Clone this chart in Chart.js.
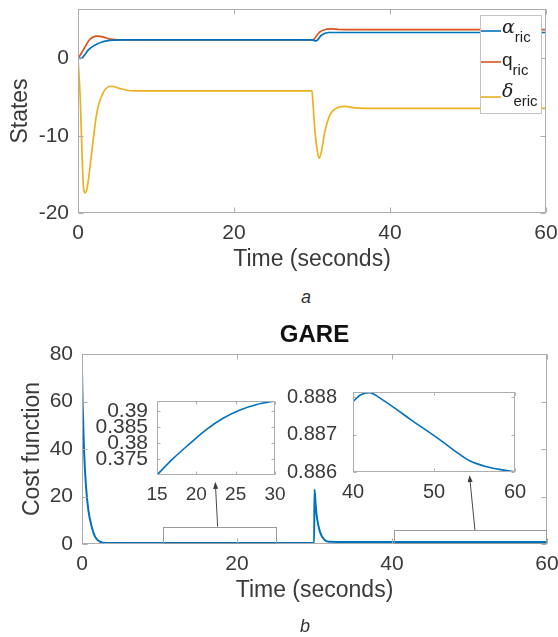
<!DOCTYPE html>
<html>
<head>
<meta charset="utf-8">
<script src="https://cdn.jsdelivr.net/npm/chart.js@4.4.1/dist/chart.umd.min.js"></script>
<style>
  html, body { margin: 0; padding: 0; background: #fff; }
  #page { position: relative; width: 558px; height: 637px; overflow: hidden; background: #fff; }
  canvas { position: absolute; }
  .panel { position: absolute; font: italic 18px "Liberation Sans", Arial, sans-serif; line-height: 1; color: #333; }
</style>
</head>
<body>
<div id="page">
  <canvas id="states" width="558" height="282" style="left:0;top:0"></canvas>
  <div class="panel" style="left:301px;top:288px">a</div>
  <canvas id="cost" width="558" height="322" style="left:0;top:315px"></canvas>
  <canvas id="inset1" width="300" height="135" style="left:0;top:380px"></canvas>
  <canvas id="inset2" width="288" height="135" style="left:270px;top:380px"></canvas>
  <div class="panel" style="left:300px;top:617px">b</div>
</div>
<script>
// ---- panel a: states ----
const alphaT = [0, 0.4, 0.8, 1.3, 1.8, 2.4, 3.0, 3.7, 4.5, 6, 30, 30.5, 31.2, 32.1, 33, 35, 60];
const alphaV = [0, 0, 0.4, 1.07, 1.5, 1.85, 2.1, 2.27, 2.36, 2.4, 2.4, 2.27, 3.0, 3.36, 3.36, 3.36, 3.36];
const qT = [0, 0.4, 0.9, 1.5, 2.4, 3.2, 4.1, 5, 6, 30, 30.2, 31.0, 31.9, 32.5, 33.5, 35, 60];
const qV = [0, 0.6, 1.5, 2.45, 2.88, 2.8, 2.5, 2.42, 2.4, 2.4, 2.45, 3.44, 3.79, 3.83, 3.75, 3.72, 3.72];
const deltaT = [0, 0.3, 0.5, 0.7, 0.9, 1.2, 1.8, 2.4, 3.3, 4.3, 5.4, 7.1, 30, 30.1, 30.4, 30.7, 30.9, 31.2, 31.6, 32.3, 33.1, 34.2, 35.5, 36.8, 60];
const deltaV = [0, -5.4, -11.8, -16.6, -17.4, -16.6, -11.8, -7.1, -4.3, -3.6, -3.9, -4.2, -4.2, -5.4, -9.7, -12.1, -12.9, -12.1, -9.7, -7.3, -6.46, -6.2, -6.4, -6.46, -6.46];
const statesXTicks = [0, 20, 40, 60];
const statesYTicks = [-20, -10, 0];
const statesYLabels = ['-20', '-10', '0'];

// ---- panel b: cost function ----
const costT = [0, 0.09, 0.26, 0.52, 0.82, 1.25, 1.68, 2.3, 3.2, 15, 29.95, 30, 30.15, 30.3, 30.7, 31.35, 32, 33, 45, 60];
const costV = [73.3, 57.8, 39.6, 24.1, 14.3, 7.3, 3.1, 1.0, 0.38, 0.375, 0.393, 23, 16.5, 11.5, 5.1, 1.6, 0.95, 0.888, 0.887, 0.886];
const costXTicks = [0, 20, 40, 60];
const costYTicks = [0, 20, 40, 60, 80];

// zoom boxes and arrows drawn on the cost plot (data coordinates)
const box1T = [10.4, 25.1], box1V = [0, 7.3];
const box2T = [40.2, 60], box2V = [0, 5.9];
const arrow1T = [17.5, 17.2], arrow1V = [7.3, 26.2];
const arrow2T = [50.7, 50.0], arrow2V = [5.9, 29];

// ---- insets ----
const in1T = [15, 17.07, 19.2, 21.3, 23.4, 25.55, 27.7, 30];
const in1V = [0.3700, 0.3752, 0.3799, 0.3843, 0.3878, 0.3904, 0.3921, 0.3932];
const in1XTicks = [15, 20, 25, 30];
const in1YTicks = [0.375, 0.38, 0.385, 0.39];
const in1YLabels = ['0.375', '0.38', '0.385', '0.39'];

const in2T = [40, 40.9, 42.1, 43.1, 45.2, 47.2, 49.3, 51.3, 52.6, 54.4, 56.5, 58.6, 60];
const in2V = [0.88788, 0.88806, 0.88812, 0.88801, 0.8877, 0.88739, 0.88708, 0.88677, 0.88656, 0.8863, 0.88614, 0.88605, 0.886];
const in2XTicks = [40, 50, 60];
const in2YTicks = [0.886, 0.887, 0.888];
const in2YLabels = ['0.886', '0.887', '0.888'];

const FONT = '"Liberation Sans", Arial, sans-serif';
const NARROW = '"Liberation Sans Narrow", "Liberation Sans", Arial, sans-serif';
const TXT = '#3a3a3a';
const BOX = '#adadad';
const BLUE = '#0072BD', RED = '#D95319', YELLOW = '#EDB120';

function pts(t, v) {
  return t.map((x, i) => ({ x: x, y: v[i] }));
}

function series(t, v, color, width) {
  return {
    data: pts(t, v),
    borderColor: color,
    borderWidth: width,
    pointRadius: 0,
    fill: false,
    cubicInterpolationMode: 'monotone'
  };
}

function xAxis(min, max, ticks, size, pad, height, title, titlePad) {
  return {
    type: 'linear', min: min, max: max,
    afterBuildTicks: s => { s.ticks = ticks.map(v => ({ value: v })); },
    afterFit: s => { s.height = height; s.paddingLeft = 0; s.paddingRight = 0; },
    grid: { display: false, drawTicks: false },
    border: { display: false },
    ticks: {
      autoSkip: false, maxRotation: 0, minRotation: 0, padding: pad, color: TXT,
      font: { family: FONT, size: size },
      callback: (v, i) => String(ticks[i])
    },
    title: title ? {
      display: true, text: title, color: TXT,
      font: { family: FONT, size: 23 }, padding: { top: 0, bottom: titlePad }
    } : { display: false }
  };
}

function yAxis(min, max, ticks, labels, family, size, pad, width, title, titlePad) {
  return {
    type: 'linear', min: min, max: max,
    afterBuildTicks: s => { s.ticks = ticks.map(v => ({ value: v })); },
    afterFit: s => { s.width = width; s.paddingTop = 0; s.paddingBottom = 0; },
    grid: { display: false, drawTicks: false },
    border: { display: false },
    ticks: {
      autoSkip: false, padding: pad, color: TXT,
      font: { family: family, size: size },
      callback: (v, i) => labels[i]
    },
    title: title ? {
      display: true, text: title, color: TXT,
      font: { family: FONT, size: 23 }, padding: { top: titlePad, bottom: 0 }
    } : { display: false }
  };
}

// white plot area, grey box and inward tick marks like matlab axes
const boxPlugin = {
  id: 'matlabBox',
  beforeDatasetsDraw(chart) {
    const a = chart.chartArea, ctx = chart.ctx;
    ctx.save();
    ctx.fillStyle = '#fff';
    ctx.fillRect(a.left, a.top, a.right - a.left, a.bottom - a.top);
    ctx.restore();
  },
  afterDatasetsDraw(chart, args, opts) {
    const a = chart.chartArea, ctx = chart.ctx, L = opts.tick || 5;
    const xs = chart.scales.x, ys = chart.scales.y;
    const l = Math.round(a.left) + 0.5, r = Math.round(a.right) - 0.5;
    const t = Math.round(a.top) + 0.5, b = Math.round(a.bottom) - 0.5;
    ctx.save();
    ctx.strokeStyle = BOX;
    ctx.lineWidth = 1;
    ctx.beginPath();
    xs.ticks.forEach(tk => {
      const p = Math.round(xs.getPixelForValue(tk.value)) + 0.5;
      ctx.moveTo(p, b); ctx.lineTo(p, b - L);
      ctx.moveTo(p, t); ctx.lineTo(p, t + L);
    });
    ys.ticks.forEach(tk => {
      const p = Math.round(ys.getPixelForValue(tk.value)) + 0.5;
      ctx.moveTo(l, p); ctx.lineTo(l + L, p);
      ctx.moveTo(r, p); ctx.lineTo(r - L, p);
    });
    ctx.stroke();
    ctx.strokeRect(l, t, r - l, b - t);
    ctx.restore();
  }
};

// legend with subscripts for panel a
const statesLegend = {
  id: 'statesLegend',
  afterDatasetsDraw(chart) {
    const ctx = chart.ctx;
    const rows = [
      { main: 'α', sub: 'ric', color: BLUE, line: 31, base: 33, subBase: 42, greek: true },
      { main: 'q', sub: 'ric', color: RED, line: 62, base: 66, subBase: 75, greek: false },
      { main: 'δ', sub: 'eric', color: YELLOW, line: 97, base: 97, subBase: 106, greek: true }
    ];
    ctx.save();
    ctx.fillStyle = '#fff';
    ctx.fillRect(480, 15, 61, 98);
    ctx.strokeStyle = '#c4c4c4';
    ctx.lineWidth = 1;
    ctx.strokeRect(480.5, 15.5, 61, 98);
    rows.forEach(r => {
      ctx.strokeStyle = r.color;
      ctx.lineWidth = 1.6;
      ctx.beginPath();
      ctx.moveTo(481, r.line);
      ctx.lineTo(501, r.line);
      ctx.stroke();
      ctx.fillStyle = '#222';
      ctx.textBaseline = 'alphabetic';
      ctx.textAlign = 'left';
      ctx.font = r.greek ? 'italic 19px "DejaVu Serif", serif' : '19px ' + FONT;
      ctx.fillText(r.main, 502, r.base);
      const w = ctx.measureText(r.main).width;
      ctx.font = '15px ' + FONT;
      ctx.fillText(r.sub, 502 + w, r.subBase);
    });
    ctx.restore();
  }
};

// zoom boxes and arrows on panel b
const zoomMarks = {
  id: 'zoomMarks',
  afterDatasetsDraw(chart) {
    const ctx = chart.ctx, xs = chart.scales.x, ys = chart.scales.y;
    const X = v => xs.getPixelForValue(v), Y = v => ys.getPixelForValue(v);
    ctx.save();
    ctx.lineWidth = 1;
    ctx.strokeStyle = '#9a9a9a';
    [[box1T, box1V], [box2T, box2V]].forEach(([bt, bv]) => {
      const x0 = Math.round(X(bt[0])) + 0.5, x1 = Math.round(X(bt[1])) - 0.5;
      const y0 = Math.round(Y(bv[1])) + 0.5, y1 = Math.round(Y(bv[0])) - 0.5;
      ctx.strokeRect(x0, y0, x1 - x0, y1 - y0);
    });
    ctx.strokeStyle = '#4a4a4a';
    ctx.fillStyle = '#3a3a3a';
    [[arrow1T, arrow1V], [arrow2T, arrow2V]].forEach(([at, av]) => {
      const sx = X(at[0]), sy = Y(av[0]), ex = X(at[1]), ey = Y(av[1]);
      const ang = Math.atan2(ey - sy, ex - sx);
      ctx.beginPath();
      ctx.moveTo(sx, sy);
      ctx.lineTo(ex - 5 * Math.cos(ang), ey - 5 * Math.sin(ang));
      ctx.stroke();
      ctx.beginPath();
      ctx.moveTo(ex, ey);
      ctx.lineTo(ex - 7 * Math.cos(ang) + 2.5 * Math.sin(ang), ey - 7 * Math.sin(ang) - 2.5 * Math.cos(ang));
      ctx.lineTo(ex - 7 * Math.cos(ang) - 2.5 * Math.sin(ang), ey - 7 * Math.sin(ang) + 2.5 * Math.cos(ang));
      ctx.closePath();
      ctx.fill();
    });
    ctx.restore();
  }
};

const common = {
  responsive: false,
  animation: false,
  events: [],
  parsing: true
};

new Chart(document.getElementById('states'), {
  type: 'line',
  data: {
    datasets: [
      series(alphaT, alphaV, BLUE, 1.7),
      series(qT, qV, RED, 1.7),
      series(deltaT, deltaV, YELLOW, 1.7)
    ]
  },
  options: Object.assign({}, common, {
    layout: { padding: { left: 0, top: 9, right: 12, bottom: 0 } },
    scales: {
      x: xAxis(0, 60, statesXTicks, 21, 8, 69, 'Time (seconds)', 8.2),
      y: yAxis(-20, 6.4, statesYTicks, statesYLabels, FONT, 21, 9, 78, 'States', 7)
    },
    plugins: { legend: { display: false }, tooltip: { enabled: false }, matlabBox: { tick: 5 } }
  }),
  plugins: [boxPlugin, statesLegend]
});

const gareTop = {
  type: 'linear', position: 'top', min: 0, max: 60,
  afterFit: s => { s.height = 39; s.paddingLeft = 0; s.paddingRight = 0; },
  grid: { display: false, drawTicks: false },
  border: { display: false },
  ticks: { display: false },
  title: {
    display: true, text: 'GARE', color: '#111',
    font: { family: FONT, size: 24, weight: 'bold' }, padding: { top: 5.6, bottom: 0 }
  }
};

new Chart(document.getElementById('cost'), {
  type: 'line',
  data: { datasets: [series(costT, costV, BLUE, 2)] },
  options: Object.assign({}, common, {
    layout: { padding: { left: 0, top: 0, right: 11, bottom: 0 } },
    scales: {
      x: xAxis(0, 60, costXTicks, 21, 8, 93, 'Time (seconds)', 32.2),
      x2: gareTop,
      y: yAxis(0, 80, costYTicks, costYTicks.map(String), FONT, 21, 9, 82, 'Cost function', 19)
    },
    plugins: { legend: { display: false }, tooltip: { enabled: false }, matlabBox: { tick: 5 } }
  }),
  plugins: [boxPlugin, zoomMarks]
});

new Chart(document.getElementById('inset1'), {
  type: 'line',
  data: { datasets: [series(in1T, in1V, BLUE, 1.6)] },
  options: Object.assign({}, common, {
    layout: { padding: { left: 0, top: 21, right: 25, bottom: 0 } },
    scales: {
      x: xAxis(15, 30, in1XTicks, 19, 8.6, 40, null, 0),
      y: yAxis(0.37, 0.3932, in1YTicks, in1YLabels, NARROW, 21, 9, 157, null, 0)
    },
    plugins: { legend: { display: false }, tooltip: { enabled: false }, matlabBox: { tick: 3 } }
  }),
  plugins: [boxPlugin]
});

new Chart(document.getElementById('inset2'), {
  type: 'line',
  data: { datasets: [series(in2T, in2V, BLUE, 1.6)] },
  options: Object.assign({}, common, {
    layout: { padding: { left: 0, top: 12, right: 43, bottom: 0 } },
    scales: {
      x: xAxis(40, 60, in2XTicks, 20, 8, 43, null, 0),
      y: yAxis(0.886, 0.88814, in2YTicks, in2YLabels, FONT, 20, 16, 83, null, 0)
    },
    plugins: { legend: { display: false }, tooltip: { enabled: false }, matlabBox: { tick: 3 } }
  }),
  plugins: [boxPlugin]
});
</script>
</body>
</html>
